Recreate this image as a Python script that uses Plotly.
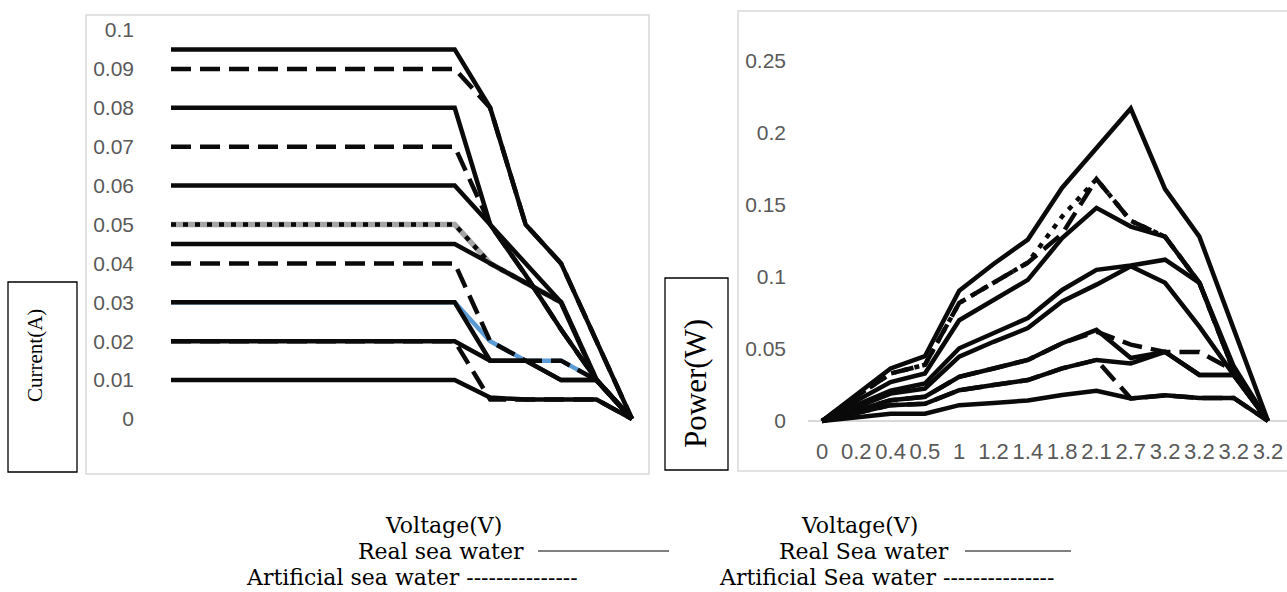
import plotly.graph_objects as go

W, H = 1287, 592

# ---------------- data ----------------
voltage_labels = ["0", "0.2", "0.4", "0.5", "1", "1.2", "1.4", "1.8", "2.1", "2.7", "3.2", "3.2", "3.2", "3.2"]
idx = list(range(len(voltage_labels)))

# Current (A) - real sea water (solid)
cur_real_a = [0.095, 0.095, 0.095, 0.095, 0.095, 0.095, 0.095, 0.095, 0.095, 0.08, 0.05, 0.04, 0.02, 0]
cur_real_b = [0.08, 0.08, 0.08, 0.08, 0.08, 0.08, 0.08, 0.08, 0.08, 0.05, 0.037, 0.023, 0.01, 0]
cur_real_c = [0.06, 0.06, 0.06, 0.06, 0.06, 0.06, 0.06, 0.06, 0.06, 0.05, 0.04, 0.03, 0.01, 0]
cur_real_d = [0.045, 0.045, 0.045, 0.045, 0.045, 0.045, 0.045, 0.045, 0.045, 0.04, 0.035, 0.03, 0.01, 0]
cur_real_e = [0.03, 0.03, 0.03, 0.03, 0.03, 0.03, 0.03, 0.03, 0.03, 0.015, 0.015, 0.01, 0.01, 0]
cur_real_f = [0.02, 0.02, 0.02, 0.02, 0.02, 0.02, 0.02, 0.02, 0.02, 0.015, 0.015, 0.01, 0.01, 0]
cur_real_g = [0.01, 0.01, 0.01, 0.01, 0.01, 0.01, 0.01, 0.01, 0.01, 0.0055, 0.005, 0.005, 0.005, 0]
# Current (A) - artificial sea water (dashed)
cur_art_a = [0.09, 0.09, 0.09, 0.09, 0.09, 0.09, 0.09, 0.09, 0.09, 0.08, 0.05, 0.04, 0.02, 0]
cur_art_b = [0.07, 0.07, 0.07, 0.07, 0.07, 0.07, 0.07, 0.07, 0.07, 0.05, 0.037, 0.023, 0.01, 0]
cur_art_c = [0.04, 0.04, 0.04, 0.04, 0.04, 0.04, 0.04, 0.04, 0.04, 0.02, 0.015, 0.015, 0.01, 0]
cur_art_d = [0.02, 0.02, 0.02, 0.02, 0.02, 0.02, 0.02, 0.02, 0.02, 0.005, 0.005, 0.005, 0.005, 0]
cur_blue = [0.03, 0.03, 0.03, 0.03, 0.03, 0.03, 0.03, 0.03, 0.03, 0.02, 0.015, 0.015, 0.01, 0]
cur_dotted = [0.05, 0.05, 0.05, 0.05, 0.05, 0.05, 0.05, 0.05, 0.05, 0.04, 0.035, 0.03, 0.01, 0]

# Power (W)
pow_real_a = [0, 0.018, 0.0365, 0.045, 0.0905, 0.109, 0.126, 0.162, 0.189, 0.217, 0.161, 0.128, 0.064, 0]
pow_real_b = [0, 0.014, 0.027, 0.033, 0.07, 0.084, 0.098, 0.127, 0.148, 0.135, 0.128, 0.096, 0.035, 0]
pow_real_c = [0, 0.011, 0.021, 0.026, 0.0505, 0.061, 0.0715, 0.091, 0.105, 0.108, 0.112, 0.096, 0.038, 0]
pow_real_d = [0, 0.0095, 0.019, 0.0225, 0.0447, 0.055, 0.0645, 0.083, 0.0947, 0.1075, 0.096, 0.0655, 0.032, 0]
pow_real_e = [0, 0.007, 0.0144, 0.0168, 0.0307, 0.0365, 0.0424, 0.054, 0.0633, 0.0437, 0.048, 0.032, 0.032, 0]
pow_real_f = [0, 0.0055, 0.011, 0.012, 0.0214, 0.025, 0.0284, 0.0365, 0.0424, 0.040, 0.048, 0.032, 0.032, 0]
pow_real_g = [0, 0.0025, 0.005, 0.005, 0.011, 0.0125, 0.0143, 0.018, 0.021, 0.0157, 0.0178, 0.016, 0.016, 0]
pow_dotted = [0, 0.017, 0.033, 0.039, 0.082, 0.096, 0.11, 0.142, 0.168, 0.139, 0.128, 0.096, 0.035, 0]
pow_art_a = [0, 0.017, 0.033, 0.039, 0.082, 0.096, 0.11, 0.13, 0.168, 0.139, 0.128, 0.096, 0.035, 0]
pow_art_b = [0, 0.007, 0.0144, 0.0168, 0.0307, 0.0365, 0.0424, 0.054, 0.062, 0.053, 0.048, 0.048, 0.035, 0]
pow_art_c = [0, 0.0055, 0.011, 0.012, 0.0214, 0.025, 0.0284, 0.0365, 0.0424, 0.0157, 0.0178, 0.016, 0.016, 0]

cur_ticks = [0, 0.01, 0.02, 0.03, 0.04, 0.05, 0.06, 0.07, 0.08, 0.09, 0.1]
pow_ticks = [0, 0.05, 0.1, 0.15, 0.2, 0.25]

# ---------------- helpers ----------------
def xp(px):
    return px / W

def yp(py):
    return 1 - py / H

BLACK = "#0a0a0a"
LW = 4.5
DASH = "20px,9px"
DOT = "5px,7px"

fig = go.Figure()

def add(x, y, ax, color=BLACK, dash="solid", width=LW):
    fig.add_trace(go.Scatter(x=x, y=y, xaxis=ax[0], yaxis=ax[1], mode="lines",
                             line=dict(color=color, width=width, dash=dash),
                             showlegend=False, hoverinfo="skip"))

L = ("x", "y")
R = ("x2", "y2")

# left chart
add(idx, cur_blue, L, color="#5B9BD5")
add(idx, cur_dotted, L, color="#A5A5A5", width=5.5)
for s in [cur_real_a, cur_real_b, cur_real_c, cur_real_d, cur_real_e, cur_real_f, cur_real_g]:
    add(idx, s, L)
for s in [cur_art_a, cur_art_b, cur_art_c, cur_art_d]:
    add(idx, s, L, dash=DASH)
add(idx, cur_dotted, L, dash=DOT, width=4.5)

# right chart
for s in [pow_real_a, pow_real_b, pow_real_c, pow_real_d, pow_real_e, pow_real_f, pow_real_g]:
    add(idx, s, R)
for s in [pow_art_a, pow_art_b, pow_art_c]:
    add(idx, s, R, dash=DASH)
add(idx, pow_dotted, R, dash=DOT, width=4.5)

# ---------------- axes ----------------
tickfont = dict(family="Liberation Sans, Arial", size=21, color="#595959")
xtickfont = dict(family="Liberation Sans, Arial", size=22, color="#595959")

# left: index 0 at px 171, 13 at px 632
lx0, lx1 = 150, 648
lunit = (632 - 171) / 13
lrange = [(lx0 - 171) / lunit, 13 + (lx1 - 632) / lunit]
# left y: 0 at py 419, 0.1 at py 30
lpx = (419 - 30) / 0.1
ly_top, ly_bot = 18, 445
lyrange = [-(ly_bot - 419) / lpx, (419 - ly_top) / lpx]

# right: index 0 at px 822, 13 at px 1268
rx0, rx1 = 808, 1287
runit = (1268 - 822) / 13
rrange = [(rx0 - 822) / runit, 13 + (rx1 - 1268) / runit]
rpx = (421 - 61) / 0.25
ry_top, ry_bot = 30, 436
ryrange = [-(ry_bot - 421) / rpx, (421 - ry_top) / rpx]

fig.update_layout(
    width=W, height=H,
    margin=dict(l=0, r=0, t=0, b=0),
    paper_bgcolor="white", plot_bgcolor="rgba(0,0,0,0)",
    xaxis=dict(domain=[xp(lx0), xp(lx1)], range=lrange, anchor="y",
               showgrid=False, zeroline=False, showticklabels=False, showline=False),
    yaxis=dict(domain=[yp(ly_bot), yp(ly_top)], range=lyrange, anchor="free", position=xp(134),
               tickvals=cur_ticks, ticktext=[f"{v:g}" for v in cur_ticks],
               showgrid=False, zeroline=False, showline=False, ticks="", tickfont=tickfont),
    xaxis2=dict(domain=[xp(rx0), xp(rx1)], range=rrange, anchor="y2",
                tickvals=idx, ticktext=voltage_labels, tickangle=0,
                showgrid=False, zeroline=False, showline=False, ticks="", tickfont=xtickfont),
    yaxis2=dict(domain=[yp(ry_bot), yp(ry_top)], range=ryrange, anchor="free", position=xp(786),
                tickvals=pow_ticks, ticktext=[f"{v:g}" for v in pow_ticks],
                showgrid=False, zeroline=True, zerolinecolor="#D9D9D9", zerolinewidth=2,
                showline=False, ticks="", tickfont=tickfont),
)

shapes = []
# chart frames
shapes.append(dict(type="rect", xref="paper", yref="paper", x0=xp(86), x1=xp(649), y0=yp(474), y1=yp(15),
                   line=dict(color="#D9D9D9", width=1.5), layer="below"))
shapes.append(dict(type="rect", xref="paper", yref="paper", x0=xp(738), x1=xp(1292), y0=yp(471), y1=yp(11),
                   line=dict(color="#D9D9D9", width=1.5), layer="below"))
# axis-title boxes
shapes.append(dict(type="rect", xref="paper", yref="paper", x0=xp(8), x1=xp(77), y0=yp(472), y1=yp(282),
                   line=dict(color="black", width=1.3), fillcolor="white"))
shapes.append(dict(type="rect", xref="paper", yref="paper", x0=xp(665), x1=xp(728), y0=yp(470), y1=yp(278),
                   line=dict(color="black", width=1.3), fillcolor="white"))
# legend sample lines
shapes.append(dict(type="line", xref="paper", yref="paper", x0=xp(538), x1=xp(669), y0=yp(551), y1=yp(551),
                   line=dict(color="black", width=1)))
shapes.append(dict(type="line", xref="paper", yref="paper", x0=xp(965), x1=xp(1071), y0=yp(551), y1=yp(551),
                   line=dict(color="black", width=1)))
fig.update_layout(shapes=shapes)

serif = "DejaVu Serif, Georgia, serif"
tfont = dict(family=serif, size=22, color="black")

def ann(text, x, y, xanchor="center", font=tfont, angle=0):
    fig.add_annotation(text=text, x=xp(x), y=yp(y), xref="paper", yref="paper",
                       xanchor=xanchor, yanchor="middle", showarrow=False, font=font, textangle=angle)

ann("Current(A)", 35, 356, font=dict(family="Liberation Serif, Times New Roman, serif", size=21, color="black"), angle=-90)
ann("Power(W)", 695, 384, font=dict(family="Liberation Serif, Times New Roman, serif", size=31, color="black"), angle=-90)

ann("Voltage(V)", 444, 525)
ann("Real sea water", 526, 551, xanchor="right")
ann("Artificial sea water ---------------", 412, 577)
ann("Voltage(V)", 860, 525)
ann("Real Sea water", 951, 551, xanchor="right")
ann("Artificial Sea water ---------------", 886, 577)

fig.write_html("out.html")
